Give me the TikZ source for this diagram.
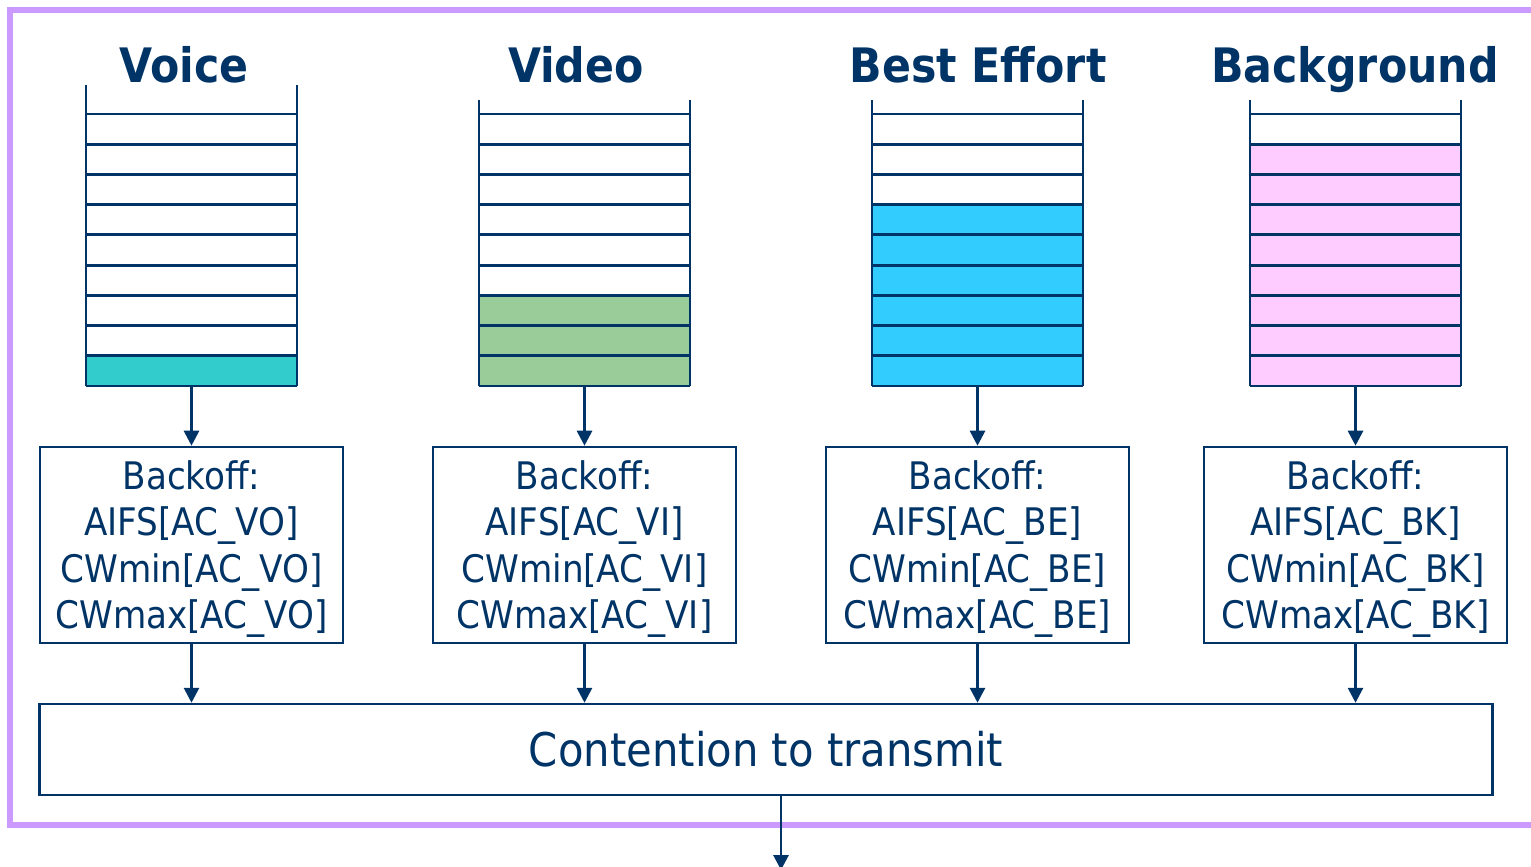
\documentclass[tikz,border=0pt]{standalone}
\usepackage{fontspec}
\setmainfont{DejaVu Sans Condensed}
\usepackage{tikz}
\usetikzlibrary{arrows.meta}

\definecolor{navy}{HTML}{003366}
\definecolor{lilac}{HTML}{CC99FF}
\definecolor{qvo}{HTML}{33CCCC}
\definecolor{qvi}{HTML}{99CC99}
\definecolor{qbe}{HTML}{33CCFF}
\definecolor{qbk}{HTML}{FFCCFF}

\newcommand{\bstrut}{\rule{0pt}{10.5pt}}

\tikzset{
  qline/.style={draw=navy, line width=0.8pt},
  boff/.style={draw=navy, line width=0.7pt, text=navy, minimum width=3.03cm,
    minimum height=1.96cm, align=center, inner sep=0pt,
    font=\fontsize{10.8}{13.1}\selectfont},
  qtitle/.style={text=navy, anchor=base, inner sep=0pt,
    font=\fontsize{13.5}{16}\selectfont\bfseries},
  link/.style={draw=navy, line width=0.8pt, -{Triangle[length=0.15cm,width=0.15cm]}}
}

\begin{document}
\begin{tikzpicture}[x=0.01cm, y=-0.01cm]
\useasboundingbox (0,0) rectangle (1531,866);

% frame
\draw[lilac, line width=1.7pt] (1531,10) -- (10,10) -- (10,825) -- (1531,825);

% queues
\foreach \qx/\qtop/\qfill/\qcol in {86/85/8/qvo, 479/100/6/qvi, 872/100/3/qbe, 1250/100/1/qbk} {
  \foreach \k in {\qfill,...,8}
    \fill[\qcol] (\qx,114+\k*30.22) rectangle ++(211,30.22);
  \foreach \k in {0,...,9}
    \draw[qline] (\qx,114+\k*30.22) -- ++(211,0);
  \draw[qline] (\qx,\qtop) -- (\qx,386) (\qx+211,\qtop) -- (\qx+211,386);
  \coordinate (\qcol) at (\qx+105.5,386);
}

\node[qtitle] (tvo) at (184,82) {Voice};
\node[qtitle] (tvi) at (576,82) {Video};
\node[qtitle] (tbe) at (978,82) {Best Effort};
\node[qtitle] (tbk) at (1355,82) {Background};

% backoff boxes
\node[boff] (bvo) at (191.5,545) {\bstrut Backoff:\\AIFS[AC\_VO]\\CWmin[AC\_VO]\\CWmax[AC\_VO]};
\node[boff] (bvi) at (584.5,545) {\bstrut Backoff:\\AIFS[AC\_VI]\\CWmin[AC\_VI]\\CWmax[AC\_VI]};
\node[boff] (bbe) at (977.5,545) {\bstrut Backoff:\\AIFS[AC\_BE]\\CWmin[AC\_BE]\\CWmax[AC\_BE]};
\node[boff] (bbk) at (1355.5,545) {\bstrut Backoff:\\AIFS[AC\_BK]\\CWmin[AC\_BK]\\CWmax[AC\_BK]};

\node[draw=navy, line width=0.7pt, text=navy, minimum width=14.52cm, minimum height=0.91cm,
  inner sep=0pt, font=\fontsize{13.2}{15}\selectfont] (ct) at (766,749.5) {Contention to transmit};

\draw[link] (qvo) -- (bvo);
\draw[link] (qvi) -- (bvi);
\draw[link] (qbe) -- (bbe);
\draw[link] (qbk) -- (bbk);

\draw[link] (bvo) -- (bvo |- ct.north);
\draw[link] (bvi) -- (bvi |- ct.north);
\draw[link] (bbe) -- (bbe |- ct.north);
\draw[link] (bbk) -- (bbk |- ct.north);

\coordinate (out) at (781,870);
\draw[link] (ct.south -| out) -- (out);
\end{tikzpicture}
\end{document}
